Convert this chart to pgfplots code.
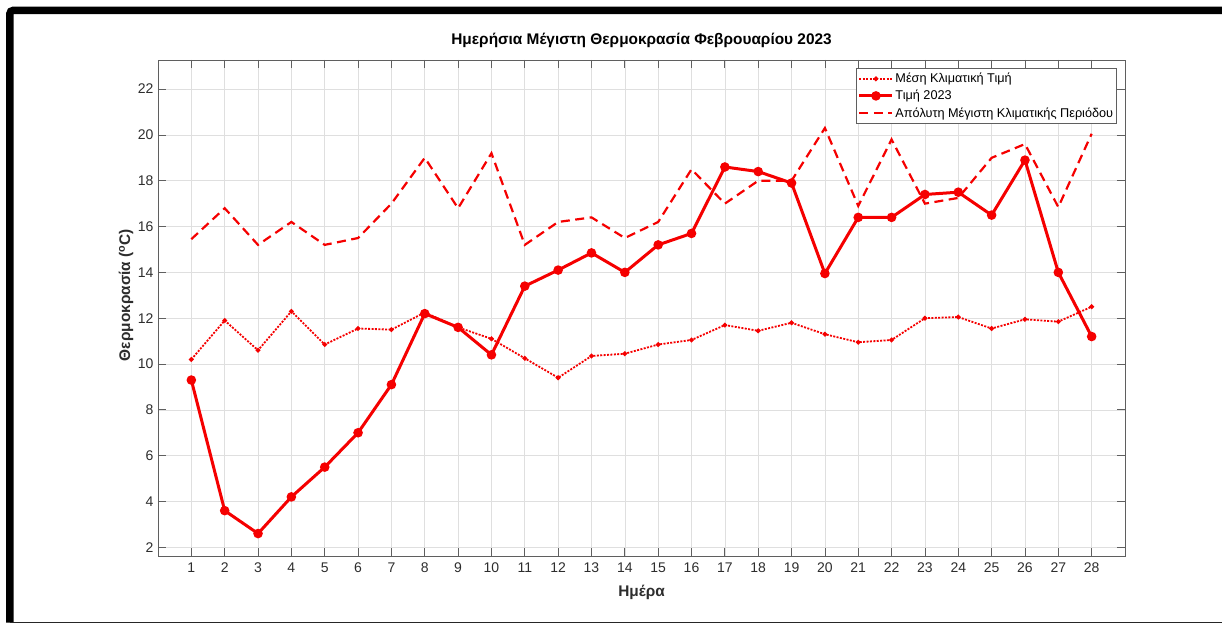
\documentclass[border=0pt]{standalone}
\usepackage{pgfplots}
\pgfplotsset{compat=1.18}
\usepackage{pgfplotstable}
\usepackage{fontspec}
\setmainfont{Liberation Sans}
\definecolor{axgray}{RGB}{95,95,95}
\definecolor{gridgray}{RGB}{223,223,223}
\definecolor{txtgray}{RGB}{45,45,45}
\definecolor{mred}{RGB}{245,0,0}

\pgfplotstableread{
day mean y2023 absmax
1 10.2 9.3 15.45
2 11.9 3.6 16.8
3 10.6 2.6 15.2
4 12.3 4.2 16.2
5 10.85 5.5 15.2
6 11.55 7.0 15.5
7 11.5 9.1 17.0
8 12.25 12.2 19.0
9 11.6 11.6 16.8
10 11.1 10.4 19.2
11 10.25 13.4 15.2
12 9.4 14.1 16.2
13 10.35 14.85 16.4
14 10.45 14.0 15.5
15 10.85 15.2 16.2
16 11.05 15.7 18.5
17 11.7 18.6 17.0
18 11.45 18.4 18.0
19 11.8 17.9 18.0
20 11.3 13.95 20.3
21 10.95 16.4 16.9
22 11.05 16.4 19.8
23 12.0 17.4 17.0
24 12.05 17.5 17.25
25 11.55 16.5 19.0
26 11.95 18.9 19.6
27 11.85 14.0 16.85
28 12.5 11.2 20.05
}\datatable

\begin{document}
\begin{tikzpicture}
\useasboundingbox (-158pt,-68pt) rectangle (1064pt,556pt);
\begin{axis}[
  at={(0pt,0pt)}, anchor=south west,
  scale only axis, width=967pt, height=496pt,
  xmin=0, xmax=29, ymin=1.62, ymax=23.27,
  xtick={1,...,28}, ytick={2,4,...,22},
  grid=major,
  major grid style={color=gridgray, line width=0.6pt},
  axis line style={color=axgray, line width=0.8pt},
  tick style={color=axgray, line width=0.8pt},
  major tick length=8pt,
  tick align=inside,
  xtick pos=both, ytick pos=both,
  /pgf/number format/assume math mode=true,
  tick label style={font=\fontsize{14}{16}\selectfont, text=txtgray},
  xticklabel style={yshift=-3pt},
  yticklabel style={xshift=-1pt},
  title={Ημερήσια Μέγιστη Θερμοκρασία Φεβρουαρίου 2023},
  title style={at={(axis description cs:0.5,1)}, anchor=center, yshift=14pt, font=\bfseries\fontsize{15.4}{18}\selectfont, text=black},
  xlabel={Ημέρα},
  xlabel style={at={(axis description cs:0.5,0)}, anchor=center, yshift=-36pt, font=\bfseries\fontsize{15.4}{18}\selectfont, text=txtgray},
  ylabel={Θερμοκρασία (\textsuperscript{o}C)},
  ylabel style={at={(axis description cs:-0.0331,0.526)}, anchor=center, rotate=0, font=\bfseries\fontsize{15.4}{18}\selectfont, text=txtgray},
  legend style={at={(axis description cs:1,1)}, xshift=-8pt, yshift=-8pt, anchor=north east,
     draw=axgray, line width=0.6pt, fill=white, font=\fontsize{12.7}{14.5}\selectfont,
     inner xsep=2pt, inner ysep=3pt, row sep=2pt, cells={anchor=west},
     nodes={inner xsep=1.5pt}},
  legend image code/.code={\draw[mark repeat=2,mark phase=2,#1] plot coordinates {(0pt,0pt) (16.5pt,0pt) (33pt,0pt)};},
]
\addplot[mred, line width=1.8pt, dash pattern=on 2pt off 1.4pt, mark=*, mark size=1.4pt, mark options={solid}] table[x=day,y=mean] {\datatable};
\addlegendentry{Μέση Κλιματική Τιμή}
\addplot[mred, line width=3pt, mark=*, mark size=3.2pt, mark options={solid}] table[x=day,y=y2023] {\datatable};
\addlegendentry{Τιμή 2023}
\addplot[mred, line width=2.2pt, dash pattern=on 9pt off 5.5pt] table[x=day,y=absmax] {\datatable};
\addlegendentry{Απόλυτη Μέγιστη Κλιματικής Περιόδου}
\end{axis}
\draw[black, line width=7.5pt, rounded corners=3pt] (-148pt,-66.5pt) -- (-148pt,545.5pt) -- (1075pt,545.5pt);
\draw[black!85, line width=1.6pt] (-148pt,-66.5pt) -- (1075pt,-66.5pt);
\end{tikzpicture}
\end{document}
